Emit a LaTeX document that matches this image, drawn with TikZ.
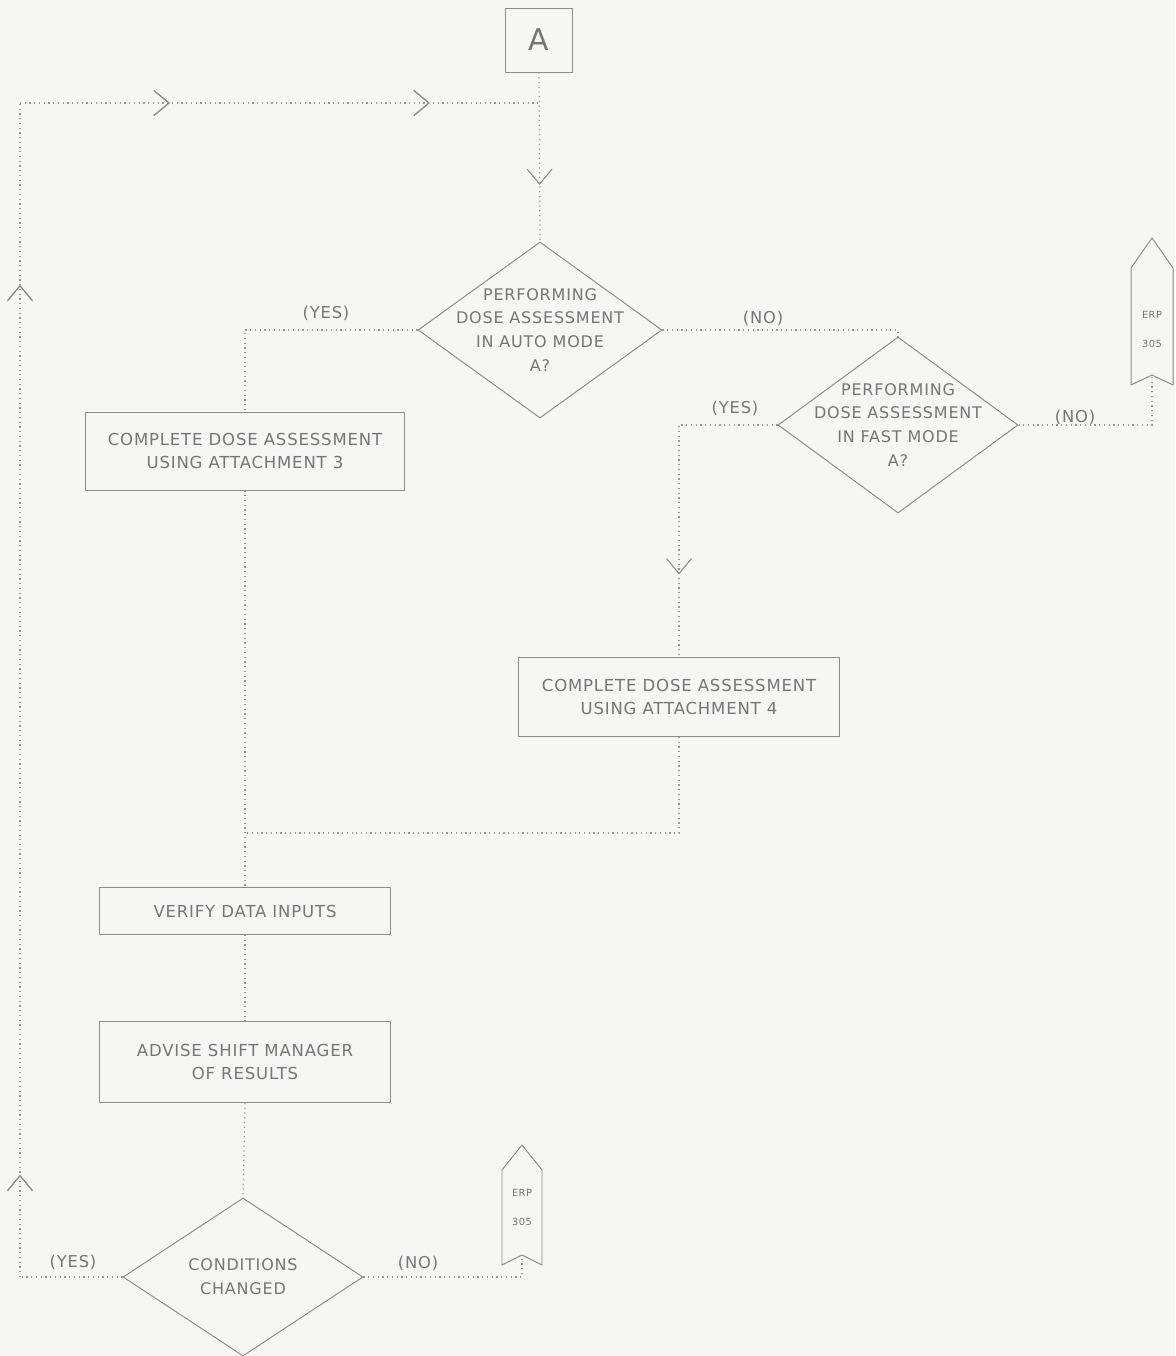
\documentclass[tikz,border=0pt]{standalone}
\usepackage{fontspec}
\setmainfont{DejaVu Sans}
\newfontfamily\chartfont[LetterSpace=5]{DejaVu Sans}
\usetikzlibrary{shapes.geometric,arrows.meta,decorations.markings}
\definecolor{paper}{RGB}{246,246,245}
\definecolor{ink}{RGB}{118,118,118}
\definecolor{rule}{RGB}{140,140,140}
\definecolor{flow}{RGB}{150,150,150}
\tikzset{
  txt/.style={text=ink, align=center, font=\chartfont\fontsize{9.1}{13.6}\selectfont, inner sep=0pt},
  boxtxt/.style={text=ink, align=center, font=\chartfont\fontsize{9.4}{13}\selectfont, inner sep=0pt},
  small/.style={text=ink, align=center, font=\chartfont\fontsize{5.6}{8}\selectfont, inner sep=0pt},
  yn/.style={text=ink, font=\chartfont\fontsize{9.3}{10}\selectfont, inner sep=0pt},
  procbox/.style={draw=rule, line width=0.55pt, rectangle, inner sep=0pt},
  decision/.style={draw=rule, line width=0.55pt, diamond, inner sep=0pt},
  tag/.style={draw=rule, line width=0.55pt, line join=round},
  conn/.style={draw=flow, line width=0.7pt, dotted},
  midarrow/.style={postaction=decorate, decoration={markings,
      mark=at position #1 with {\arrow[draw=rule]{Straight Barb[length=3mm,width=5mm,line width=0.6pt]}}}},
}
\begin{document}
\begin{tikzpicture}[x=0.2mm,y=-0.2mm]
  % page
  \fill[paper] (0,0) rectangle (1175,1356);
  \useasboundingbox (0,0) rectangle (1175,1356);

  % entry connector
  \node[procbox, minimum width=13.4mm, minimum height=12.8mm, text=ink,
        font=\fontsize{17}{17}\selectfont] (A) at (539,40) {A};

  % decisions
  \node[decision, minimum width=48.8mm, minimum height=35.2mm] (d1) at (540,330) {};
  \node[txt] at (d1) {PERFORMING\\DOSE ASSESSMENT\\IN AUTO MODE\\A?};

  \node[decision, minimum width=48mm, minimum height=35.2mm] (d2) at (898,425) {};
  \node[txt] at (d2) {PERFORMING\\DOSE ASSESSMENT\\IN FAST MODE\\A?};

  \node[decision, minimum width=48mm, minimum height=31.6mm] (d3) at (243,1277) {};
  \node[txt] at (d3) {CONDITIONS\\CHANGED};

  % process boxes
  \node[procbox, minimum width=63.8mm, minimum height=15.6mm] (b3) at (245,451) {};
  \node[boxtxt] at (b3) {COMPLETE DOSE ASSESSMENT\\USING ATTACHMENT 3};

  \node[procbox, minimum width=64.2mm, minimum height=15.8mm] (b4) at (679,697) {};
  \node[boxtxt] at (b4) {COMPLETE DOSE ASSESSMENT\\USING ATTACHMENT 4};

  \node[procbox, minimum width=58.2mm, minimum height=9.4mm] (verify) at (245,911) {};
  \node[boxtxt] at (verify) {VERIFY DATA INPUTS};

  \node[procbox, minimum width=58.2mm, minimum height=16.2mm] (advise) at (245,1062) {};
  \node[boxtxt] at (advise) {ADVISE SHIFT MANAGER\\OF RESULTS};

  % off-page references
  \draw[tag] (1152,238) -- (1173,268) -- (1173,385) -- (1152,375) -- (1131,385) -- (1131,268) -- cycle;
  \coordinate (n1) at (1152,375);
  \node[small] at (1152,315) {ERP};
  \node[small] at (1152,344) {305};

  \draw[tag] (522,1145) -- (542,1170) -- (542,1265) -- (522,1255) -- (502,1265) -- (502,1170) -- cycle;
  \coordinate (n2) at (522,1255);
  \node[small] at (522,1193) {ERP};
  \node[small] at (522,1222) {305};

  % loop-back path
  \coordinate (lb) at (20,1277);
  \coordinate (lt) at (20,103);
  \coordinate (mg) at (540,103);
  \coordinate (jn) at (245,833);

  % connectors
  \draw[conn, midarrow=0.665] (A.south) -- (d1.north);
  \draw[conn] (d1.west) -| (b3.north);
  \draw[conn] (d1.east) -| (d2.north);
  \draw[conn] (d2.east) -| (n1);
  \draw[conn, midarrow=0.75] (d2.west) -| (b4.north);
  \draw[conn] (b4.south) |- (jn);
  \draw[conn] (b3.south) -- (verify.north);
  \draw[conn] (verify.south) -- (advise.north);
  \draw[conn] (advise.south) -- (d3.north);
  \draw[conn] (d3.east) -| (n2);
  \draw[conn] (d3.west) -- (lb);
  \draw[conn, midarrow=0.087, midarrow=0.845] (lb) -- (lt);
  \draw[conn, midarrow=0.288, midarrow=0.788] (lt) -- (mg);

  % branch labels
  \node[yn] at (326,313) {(YES)};
  \node[yn] at (763,318) {(NO)};
  \node[yn] at (735,408) {(YES)};
  \node[yn] at (1075,417) {(NO)};
  \node[yn] at (73,1262) {(YES)};
  \node[yn] at (418,1263) {(NO)};
\end{tikzpicture}
\end{document}
